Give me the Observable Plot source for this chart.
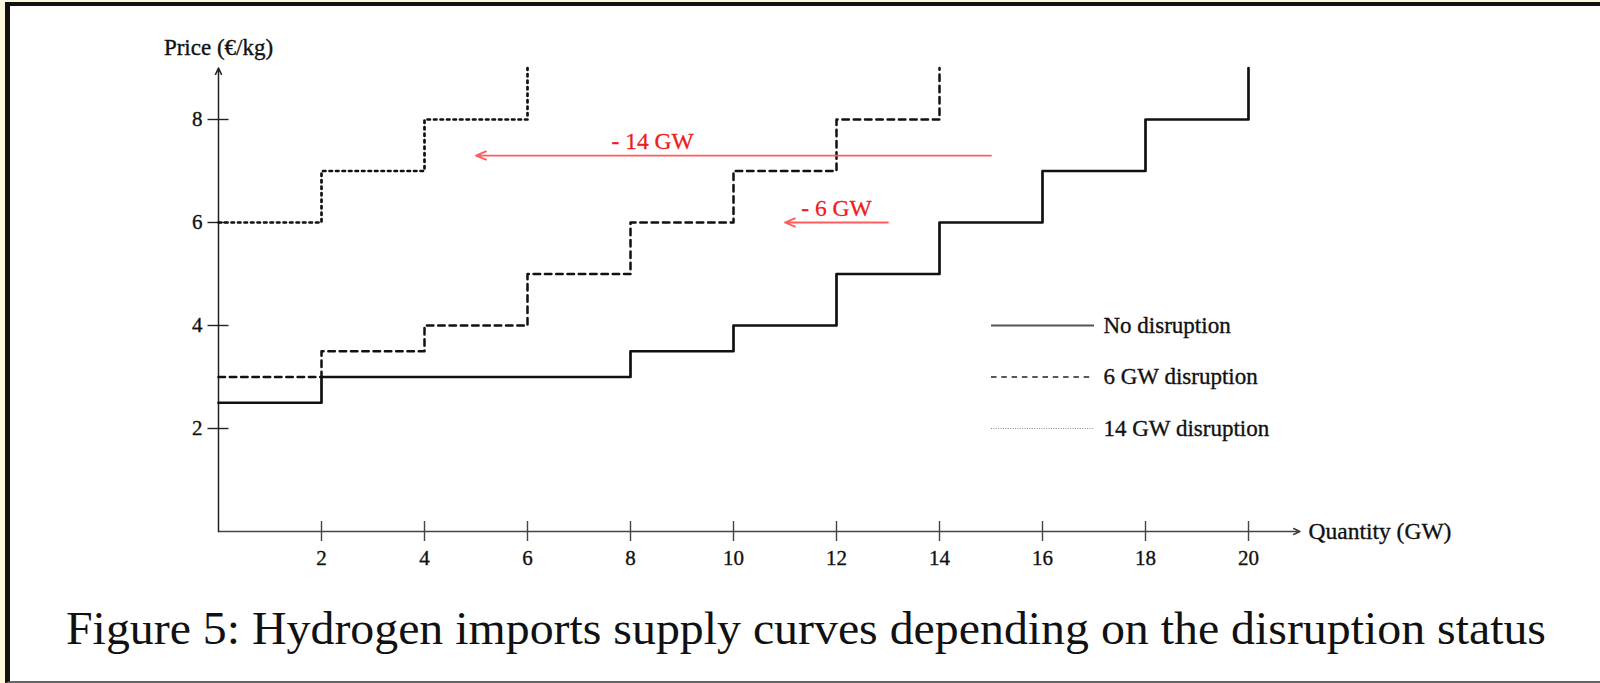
<!DOCTYPE html>
<html><head><meta charset="utf-8">
<script src="https://cdn.jsdelivr.net/npm/d3@7"></script>
<script src="https://cdn.jsdelivr.net/npm/@observablehq/plot@0.6"></script>
<style>
html,body{margin:0;padding:0;}
body{width:1600px;height:683px;background:#fdf7dc;position:relative;overflow:hidden;font-family:"Liberation Serif",serif;}
#frame{position:absolute;left:5px;top:2px;right:0;bottom:0;background:#fff;border-left:5px solid #111;border-top:4px solid #111;border-bottom:2px solid #666;box-sizing:border-box;}
#chart{position:absolute;left:0;top:0;}
#caption{position:absolute;left:66px;top:606px;font-size:46px;line-height:1;white-space:nowrap;transform-origin:0 0;color:#111;}
</style></head>
<body>
<div id="frame"></div>
<div id="chart"></div>
<div id="caption"><span id="capText">Figure 5: Hydrogen imports supply curves depending on the disruption status</span></div>
<script>
// ---- data ----
const xTicks = [2, 4, 6, 8, 10, 12, 14, 16, 18, 20];
const yTicks = [2, 4, 6, 8];
const xMax = 21;
const yMax = 9;
const priceCap = 9;

const seriesNames = ["No disruption", "6 GW disruption", "14 GW disruption"];
// step start quantities (GW) and prices (€/kg)
const noDisruptionQ = [0, 2, 8, 10, 12, 14, 16, 18, 20];
const noDisruptionP = [2.5, 3, 3.5, 4, 5, 6, 7, 8, 8];
const gw6DisruptionQ = [0, 2, 4, 6, 8, 10, 12, 14];
const gw6DisruptionP = [3, 3.5, 4, 5, 6, 7, 8, 8];
const gw14DisruptionQ = [0, 2, 4, 6];
const gw14DisruptionP = [6, 7, 8, 8];

// shift annotations
const shiftLabels = ["- 14 GW", "- 6 GW"];
const shiftFrom = [15, 13];
const shiftTo = [5, 11];
const shiftPrice = [7.3, 6];
const shiftLabelQ = [8.43, 12];

// legend
const legendFrom = 15, legendTo = 17;
const legendPrice = [4, 3, 2];

// ---- build tables ----
function steps(name, Q, P) {
  const pts = Q.map((q, i) => ({series: name, q, p: P[i]}));
  pts.push({series: name, q: Q[Q.length - 1], p: priceCap});
  return pts;
}
const curves = [
  steps(seriesNames[0], noDisruptionQ, noDisruptionP),
  steps(seriesNames[1], gw6DisruptionQ, gw6DisruptionP),
  steps(seriesNames[2], gw14DisruptionQ, gw14DisruptionP)
];
const curveStyles = [
  {stroke: "#111", strokeWidth: 2.7},
  {stroke: "#111", strokeWidth: 2.5, strokeDasharray: "6.5,4.8"},
  {stroke: "#111", strokeWidth: 2.7, strokeDasharray: "2.5,4"}
];
const legendStyles = [
  {stroke: "#555", strokeWidth: 1.8},
  {stroke: "#222", strokeWidth: 1.6, strokeDasharray: "5.5,4.8"},
  {stroke: "#888", strokeWidth: 1.1, strokeDasharray: "1,1.4"}
];
const shifts = shiftLabels.map((t, i) => ({t, from: shiftFrom[i], to: shiftTo[i], p: shiftPrice[i], lq: shiftLabelQ[i]}));
const legend = seriesNames.map((n, i) => ({n, p: legendPrice[i], i}));

const font = "'Liberation Serif', serif";
const heavy = {stroke: "#111", strokeWidth: 0.35};
const plot = Plot.plot({
  width: 1600,
  height: 600,
  marginLeft: 218,
  marginRight: 300.5,
  marginTop: 67.5,
  marginBottom: 69,
  style: {background: "transparent", fontFamily: font, fontSize: "21px", color: "#111"},
  x: {domain: [0, xMax], axis: null},
  y: {domain: [0, yMax], axis: null},
  marks: [
    // axes
    Plot.arrow([0], {x1: 0, y1: 0, x2: xMax, y2: 0, stroke: "#444", strokeWidth: 1.5, headLength: 7, headAngle: 50}),
    Plot.arrow([0], {x1: 0, y1: 0, x2: 0, y2: yMax, stroke: "#222", strokeWidth: 1.5, headLength: 7, headAngle: 50}),
    Plot.ruleX(xTicks, {x: d => d, y1: 0, y2: 0, insetTop: -10, insetBottom: -10, stroke: "#444", strokeWidth: 1.4}),
    Plot.ruleY(yTicks, {y: d => d, x1: 0, x2: 0, insetLeft: -10.5, insetRight: -10.5, stroke: "#222", strokeWidth: 1.4}),
    Plot.text(xTicks, {x: d => d, y: 0, text: d => String(d), dy: 27, fontSize: 21, fill: "#111", ...heavy}),
    Plot.text(yTicks, {x: 0, y: d => d, text: d => String(d), dx: -16, textAnchor: "end", fontSize: 21, fill: "#111", ...heavy}),
    Plot.text(["Price (€/kg)"], {x: 0, y: yMax, text: d => d, dy: -20, fontSize: 23, fill: "#111", ...heavy}),
    Plot.text(["Quantity (GW)"], {x: xMax, y: 0, text: d => d, dx: 8.5, textAnchor: "start", fontSize: 23.5, fill: "#111", ...heavy}),
    // curves
    ...curves.map((c, i) => Plot.line(c, {x: "q", y: "p", curve: "step-after", ...curveStyles[i]})),
    // shift arrows
    Plot.arrow(shifts, {x1: "from", x2: "to", y1: "p", y2: "p", stroke: "#ff5c5c", strokeWidth: 1.8, headLength: 9, headAngle: 45}),
    Plot.text(shifts, {x: "lq", y: "p", text: "t", dy: -14, fontSize: 23.5, fill: "#ee1c1c", stroke: "#ee1c1c", strokeWidth: 0.3}),
    // legend
    ...legend.map(d => Plot.link([d], {x1: legendFrom, x2: legendTo, y1: "p", y2: "p", ...legendStyles[d.i]})),
    Plot.text(legend, {x: legendTo, y: "p", text: "n", dx: 9.5, textAnchor: "start", fontSize: 23, fill: "#111", ...heavy})
  ]
});
document.getElementById("chart").appendChild(plot);

const cap = document.getElementById("capText");
const w = cap.getBoundingClientRect().width;
document.getElementById("caption").style.transform = `scaleX(${1480 / w})`;
</script>
</body></html>
